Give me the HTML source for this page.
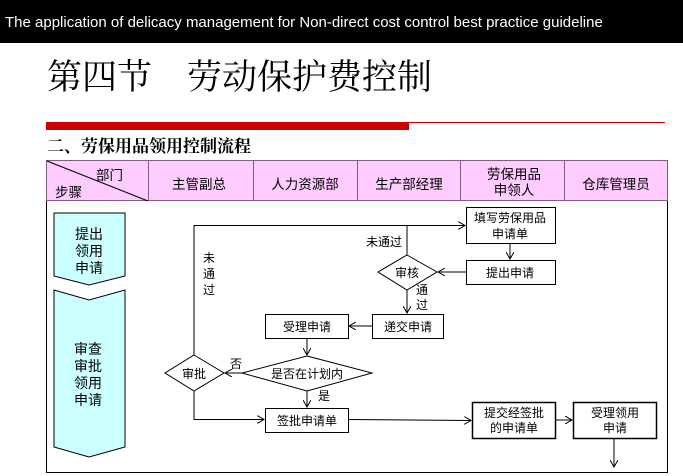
<!DOCTYPE html>
<html><head><meta charset="utf-8"><style>
body{margin:0;width:683px;height:476px;overflow:hidden;background:#fff}
svg{display:block}
text{font-family:"Liberation Sans","Noto Sans CJK SC",sans-serif;font-size:12px;fill:#000}
.h{font-size:13.5px}
.l{font-size:14px}
</style></head><body>
<svg width="683" height="476" viewBox="0 0 683 476" xmlns="http://www.w3.org/2000/svg">
<defs><marker id="a" markerWidth="8" markerHeight="8" refX="7" refY="4" orient="auto" markerUnits="userSpaceOnUse"><path d="M0,0 L7,4 L0,8" fill="none" stroke="#000" stroke-width="1"/></marker></defs>
<rect x="0" y="0" width="683" height="43" fill="#000"/>
<text x="5" y="27" style="font-size:15px;fill:#fff">The application of delicacy management for Non-direct cost control best practice guideline</text>
<text x="47" y="89" style="font-size:35px;font-family:'Liberation Serif','Noto Serif CJK SC',serif">第四节　劳动保护费控制</text>
<rect x="46" y="122" width="363" height="8" fill="#cc0000"/>
<line x1="46" y1="122.5" x2="665" y2="122.5" stroke="#cc0000" stroke-width="1"/>
<text x="47" y="152" style="font-size:17px;font-weight:bold;font-family:'Liberation Serif','Noto Serif CJK SC',serif">二、劳保用品领用控制流程</text>
<rect x="46.5" y="160.5" width="621" height="312" fill="#fff" stroke="#000"/>
<rect x="46.5" y="160.5" width="621" height="40" fill="#ffccff" stroke="#806080"/>
<g stroke="#806080"><line x1="148.5" y1="160" x2="148.5" y2="201"/><line x1="253.5" y1="160" x2="253.5" y2="201"/><line x1="357.5" y1="160" x2="357.5" y2="201"/><line x1="460.5" y1="160" x2="460.5" y2="201"/><line x1="564.5" y1="160" x2="564.5" y2="201"/></g>
<line x1="47" y1="161" x2="148" y2="201" stroke="#000"/>
<text class="h" x="96" y="180">部门</text><text class="h" x="55" y="197">步骤</text>
<g text-anchor="middle">
<text class="h" x="199" y="189">主管副总</text>
<text class="h" x="305" y="189">人力资源部</text>
<text class="h" x="409" y="189">生产部经理</text>
<text class="h" x="514" y="179">劳保用品</text><text class="h" x="514" y="195">申领人</text>
<text class="h" x="616" y="189">仓库管理员</text>
</g>
<path d="M54,213 H125 V276 L89,285 L54,276 Z" fill="#ccffff" stroke="#000"/>
<path d="M54,290 L89,300 L125,290 V447 L89,457 L54,447 Z" fill="#ccffff" stroke="#000"/>
<g text-anchor="middle"><text class="l" x="89" y="239">提出</text><text class="l" x="89" y="256">领用</text><text class="l" x="89" y="273">申请</text>
<text class="l" x="88" y="354">审查</text><text class="l" x="88" y="371">审批</text><text class="l" x="88" y="388">领用</text><text class="l" x="88" y="405">申请</text></g>
<g fill="#fff" stroke="#000">
<rect x="466.5" y="207.5" width="89" height="36"/>
<rect x="466.5" y="260.5" width="89" height="24"/>
<rect x="372.5" y="314.5" width="71" height="24"/>
<rect x="265.5" y="314.5" width="83" height="24"/>
<rect x="265.5" y="408.5" width="83" height="24"/>
<rect x="472.5" y="402.5" width="83" height="36" stroke-width="1.5"/>
<rect x="573.5" y="402.5" width="83" height="36" stroke-width="1.5"/>
<path d="M407,255 L437,272 L407,290 L378,272 Z"/>
<path d="M307,356 L372,373 L307,391 L242,373 Z"/>
<path d="M194,355 L224,373 L194,391 L165,373 Z"/>
</g>
<g fill="none" stroke="#000">
<path d="M510,243 V259" marker-end="url(#a)"/>
<path d="M466,272 H438" marker-end="url(#a)"/>
<path d="M407,255 V225.5"/>
<path d="M194,355 V225.5 H465" marker-end="url(#a)"/>
<path d="M407,290 V313" marker-end="url(#a)"/>
<path d="M372,326 H349" marker-end="url(#a)"/>
<path d="M307,338 V355" marker-end="url(#a)"/>
<path d="M242,373 H225" marker-end="url(#a)"/>
<path d="M307,391 V407" marker-end="url(#a)"/>
<path d="M194,391 V419.5 H264" marker-end="url(#a)"/>
<path d="M348,419.5 L471,420.5" marker-end="url(#a)"/>
<path d="M556,420 H572" marker-end="url(#a)"/>
<path d="M614,439 V467" marker-end="url(#a)"/>
</g>
<g text-anchor="middle">
<text x="510" y="222">填写劳保用品</text><text x="510" y="238">申请单</text>
<text x="510" y="277">提出申请</text>
<text x="407" y="277">审核</text>
<text x="408" y="331">递交申请</text>
<text x="307" y="331">受理申请</text>
<text x="307" y="378">是否在计划内</text>
<text x="194" y="378">审批</text>
<text x="307" y="425">签批申请单</text>
<text x="514" y="417">提交经签批</text><text x="514" y="432">的申请单</text>
<text x="615" y="417">受理领用</text><text x="615" y="432">申请</text>
<text x="384" y="246">未通过</text>
<text x="422" y="294">通</text><text x="422" y="309">过</text>
<text x="209" y="262">未</text><text x="209" y="278">通</text><text x="209" y="294">过</text>
<text x="236" y="368">否</text>
<text x="324" y="400">是</text>
</g>
</svg>
</body></html>
